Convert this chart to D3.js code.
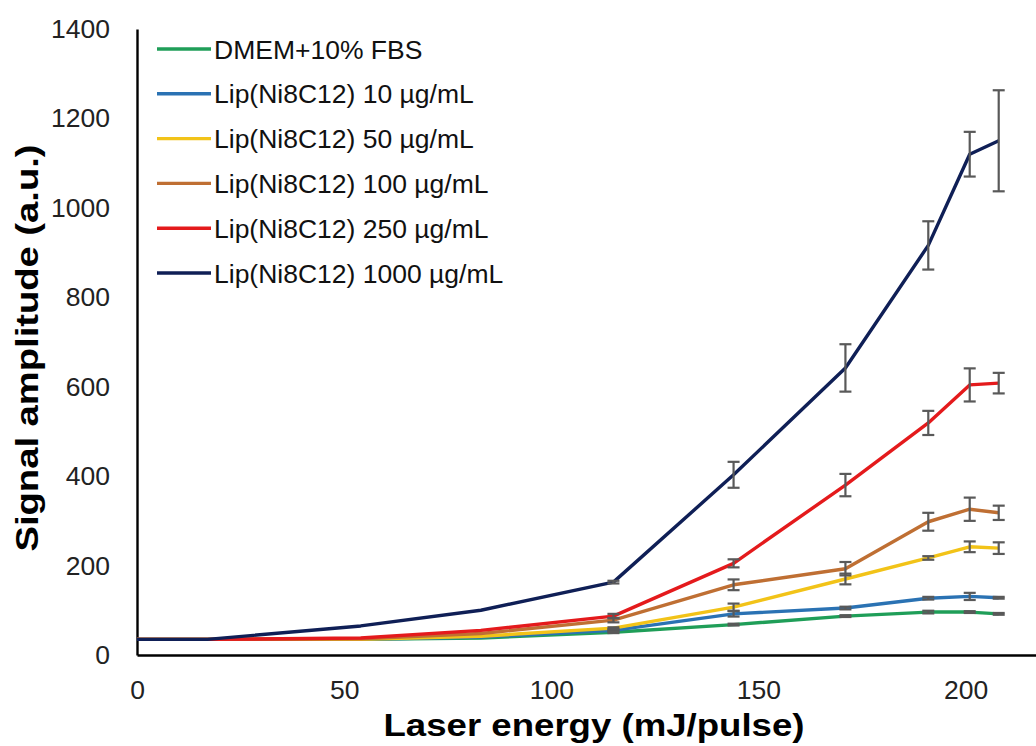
<!DOCTYPE html>
<html>
<head>
<meta charset="utf-8">
<script src="https://cdn.jsdelivr.net/npm/d3@7"></script>
<style>
  html, body { margin: 0; padding: 0; background: #fff; }
  svg { display: block; }
  text { font-family: "Liberation Sans", Arial, sans-serif; }
</style>
</head>
<body>
<svg id="chart" width="1036" height="746"></svg>
<script>
// ---- Data ----
const energy = [0, 17, 54, 83, 115, 144, 171, 191, 201, 208];
const seriesNames = [
  "DMEM+10% FBS",
  "Lip(Ni8C12) 10 \u00b5g/mL",
  "Lip(Ni8C12) 50 \u00b5g/mL",
  "Lip(Ni8C12) 100 \u00b5g/mL",
  "Lip(Ni8C12) 250 \u00b5g/mL",
  "Lip(Ni8C12) 1000 \u00b5g/mL"
];
const dmem      = [35, 35, 35, 38, 51, 68, 87, 96, 96, 92];
const lip10     = [35, 35, 35, 40, 55, 92, 105, 127, 131, 128];
const lip50     = [35, 35, 35, 42, 60, 107, 170, 217, 242, 239];
const lip100    = [35, 35, 36, 48, 78, 157, 193, 298, 326, 318];
const lip250    = [35, 35, 38, 55, 87, 205, 380, 519, 604, 608];
const lip1000   = [35, 35, 65, 100, 163, 403, 642, 916, 1120, 1150];
const errDmem   = [0, 0, 0, 0, 2, 2, 2, 3, 2, 2];
const err10     = [0, 0, 0, 0, 2, 6, 3, 3, 8, 2];
const err50     = [0, 0, 0, 0, 2, 8, 12, 4, 12, 13];
const err100    = [0, 0, 0, 0, 5, 12, 15, 20, 26, 16];
const err250    = [0, 0, 0, 0, 5, 9, 25, 27, 37, 23];
const err1000   = [0, 0, 0, 0, 3, 29, 53, 54, 50, 113];
const seriesValues = [dmem, lip10, lip50, lip100, lip250, lip1000];
const seriesErrors = [errDmem, err10, err50, err100, err250, err1000];
const colors = ["#1f9e58", "#2a72b3", "#f2c318", "#bf6f33", "#e41a1c", "#0f1f56"];
const yTicks = [0, 200, 400, 600, 800, 1000, 1200, 1400];
const xTicks = [0, 50, 100, 150, 200];

// ---- Layout ----
const svg = d3.select("#chart");
const x = d3.scaleLinear().domain([0, 217]).range([137, 1036]);
const y = d3.scaleLinear().domain([0, 1400]).range([655, 29]);

// Axes
const yAxis = d3.axisLeft(y).tickValues(yTicks).tickFormat(d3.format("d")).tickSize(0).tickPadding(27);
const gy = svg.append("g").attr("transform", `translate(${x(0)},0)`).call(yAxis);
gy.select(".domain").attr("stroke", "#000").attr("stroke-width", 2.4);
gy.selectAll("text").attr("font-size", 26.5).attr("fill", "#222")
  .attr("font-family", "Liberation Sans, Arial, sans-serif");

const xAxis = d3.axisBottom(x).tickValues(xTicks).tickFormat(d3.format("d")).tickSize(0).tickPadding(25);
const gx = svg.append("g").attr("transform", `translate(0,${y(0)})`).call(xAxis);
gx.select(".domain").attr("stroke", "#000").attr("stroke-width", 2.4);
gx.selectAll("text").attr("font-size", 26.5).attr("fill", "#222")
  .attr("font-family", "Liberation Sans, Arial, sans-serif");

// Axis titles
svg.append("text")
  .attr("x", 594).attr("y", 736)
  .attr("text-anchor", "middle")
  .attr("font-size", 32).attr("font-weight", "bold").attr("fill", "#000")
  .attr("textLength", 421).attr("lengthAdjust", "spacingAndGlyphs")
  .text("Laser energy (mJ/pulse)");
svg.append("text")
  .attr("transform", "translate(38,348) rotate(-90)")
  .attr("text-anchor", "middle")
  .attr("font-size", 32).attr("font-weight", "bold").attr("fill", "#000")
  .attr("textLength", 407).attr("lengthAdjust", "spacingAndGlyphs")
  .text("Signal amplitude (a.u.)");

// Lines
const line = d3.line().x(d => x(d[0])).y(d => y(d[1]));
seriesValues.forEach((vals, i) => {
  const pts = energy.map((e, j) => [e, vals[j]]);
  svg.append("path")
    .datum(pts)
    .attr("fill", "none")
    .attr("stroke", colors[i])
    .attr("stroke-width", 3.4)
    .attr("stroke-linejoin", "round")
    .attr("d", line);
});

// Error bars
seriesValues.forEach((vals, i) => {
  const errs = seriesErrors[i];
  const g = svg.append("g").attr("stroke", "#595959").attr("stroke-width", 2.2);
  energy.forEach((e, j) => {
    const err = errs[j];
    if (!err) return;
    const cx = x(e);
    const y1 = y(vals[j] + err), y2 = y(vals[j] - err);
    g.append("line").attr("x1", cx).attr("x2", cx).attr("y1", y1).attr("y2", y2);
    g.append("line").attr("x1", cx - 6).attr("x2", cx + 6).attr("y1", y1).attr("y2", y1);
    g.append("line").attr("x1", cx - 6).attr("x2", cx + 6).attr("y1", y2).attr("y2", y2);
  });
});

// Legend
const legendY = d3.scaleLinear().domain([0, 5]).range([49, 273]);
seriesNames.forEach((name, i) => {
  const ly = legendY(i);
  svg.append("line")
    .attr("x1", 157).attr("x2", 211).attr("y1", ly).attr("y2", ly)
    .attr("stroke", colors[i]).attr("stroke-width", 3.4);
  svg.append("text")
    .attr("x", 214).attr("y", ly + 9.5)
    .attr("font-size", 26.5).attr("fill", "#111")
    .text(name);
});
</script>
</body>
</html>
